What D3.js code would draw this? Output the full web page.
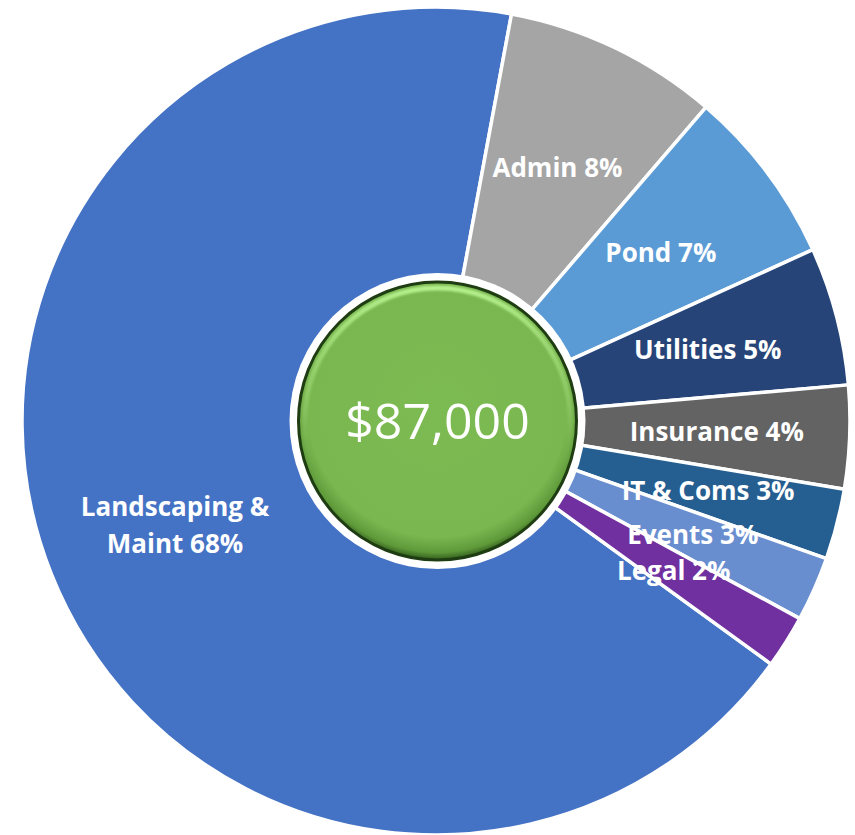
<!DOCTYPE html>
<html>
<head>
<meta charset="utf-8">
<script src="https://cdn.jsdelivr.net/npm/d3@7"></script>
<style>
  html, body { margin: 0; padding: 0; background: #ffffff; }
  svg { display: block; }
</style>
</head>
<body>
<svg id="chart" width="855" height="835"></svg>
<script>
// ---- data ----
const categories = ["Landscaping &\nMaint", "Admin", "Pond", "Utilities", "Insurance", "IT & Coms", "Events", "Legal"];
const amounts    = [59100, 7300, 6000, 4700, 3500, 2400, 2200, 1800];
const colors     = ["#4472C4", "#A5A5A5", "#5B9BD5", "#264478", "#636363", "#255E91", "#698ED0", "#7030A0"];

const W = 855, H = 835;
const cx = 436, cy = 421;
const R = 414;
const labelR = 281;
const startDeg = 125.96;

const svg = d3.select("#chart");
const total = d3.sum(amounts);
const data = categories.map((c, i) => ({ name: c, value: amounts[i], color: colors[i] }));

const pie = d3.pie().value(d => d.value).sort(null)
  .startAngle(startDeg * Math.PI / 180)
  .endAngle(startDeg * Math.PI / 180 + 2 * Math.PI);
const arcs = pie(data);

const arc = d3.arc().innerRadius(0).outerRadius(R);
const labelArc = d3.arc().innerRadius(labelR).outerRadius(labelR);

const g = svg.append("g").attr("transform", `translate(${cx},${cy})`);

g.selectAll("path.slice").data(arcs).enter().append("path")
  .attr("class", "slice")
  .attr("d", arc)
  .attr("fill", d => d.data.color)
  .attr("stroke", "#ffffff")
  .attr("stroke-width", 3.5)
  .attr("stroke-linejoin", "round");

// labels
const fs = 26;
const lab = g.selectAll("text.lab").data(arcs).enter().append("text")
  .attr("class", "lab")
  .attr("transform", d => { const [x, y] = labelArc.centroid(d); return `translate(${x},${y})`; })
  .attr("text-anchor", "middle")
  .attr("fill", "#ffffff")
  .style("font-family", "'Open Sans', sans-serif")
  .style("font-weight", 700)
  .style("font-size", fs + "px");

lab.each(function(d) {
  const pct = Math.round(d.data.value / total * 100) + "%";
  const lines = d.data.name.split("\n");
  lines[lines.length - 1] += " " + pct;
  const lh = 37;
  const n = lines.length;
  const t = d3.select(this);
  lines.forEach((ln, i) => {
    t.append("tspan")
      .attr("x", 0)
      .attr("y", (i - (n - 1) / 2) * lh + fs * 0.357)
      .text(ln);
  });
});

// centre badge
const defs = svg.append("defs");
const rg = defs.append("radialGradient").attr("id", "greenFill")
  .attr("cx", "50%").attr("cy", "45%").attr("r", "55%");
rg.append("stop").attr("offset", "0%").attr("stop-color", "#7cba52");
rg.append("stop").attr("offset", "85%").attr("stop-color", "#7ab750");
rg.append("stop").attr("offset", "95%").attr("stop-color", "#5f9a3a");
rg.append("stop").attr("offset", "100%").attr("stop-color", "#2f5a1a");

const hl = defs.append("linearGradient").attr("id", "hiLite")
  .attr("x1", "0").attr("y1", "0").attr("x2", "0").attr("y2", "1");
hl.append("stop").attr("offset", "0%").attr("stop-color", "#b4f08c").attr("stop-opacity", 1);
hl.append("stop").attr("offset", "45%").attr("stop-color", "#9ad472").attr("stop-opacity", 0.5);
hl.append("stop").attr("offset", "70%").attr("stop-color", "#7ab750").attr("stop-opacity", 0);

const blur = defs.append("filter").attr("id", "soft").attr("x", "-10%").attr("y", "-10%").attr("width", "120%").attr("height", "120%");
blur.append("feGaussianBlur").attr("stdDeviation", 1.2);

const c = svg.append("g").attr("transform", `translate(${cx + 1.5},${cy})`);
c.append("circle").attr("r", 148).attr("fill", "#ffffff");
c.append("circle").attr("r", 139).attr("fill", "url(#greenFill)")
  .attr("stroke", "#1f3d12").attr("stroke-width", 3);
c.append("circle").attr("r", 133).attr("fill", "none")
  .attr("stroke", "url(#hiLite)").attr("stroke-width", 5)
  .attr("filter", "url(#soft)");

c.append("text")
  .attr("x", 0).attr("y", 18)
  .attr("text-anchor", "middle")
  .attr("fill", "#ffffff")
  .style("font-family", "'Open Sans', sans-serif")
  .style("font-size", "50px")
  .text(d3.format("$,")(total));
</script>
</body>
</html>
